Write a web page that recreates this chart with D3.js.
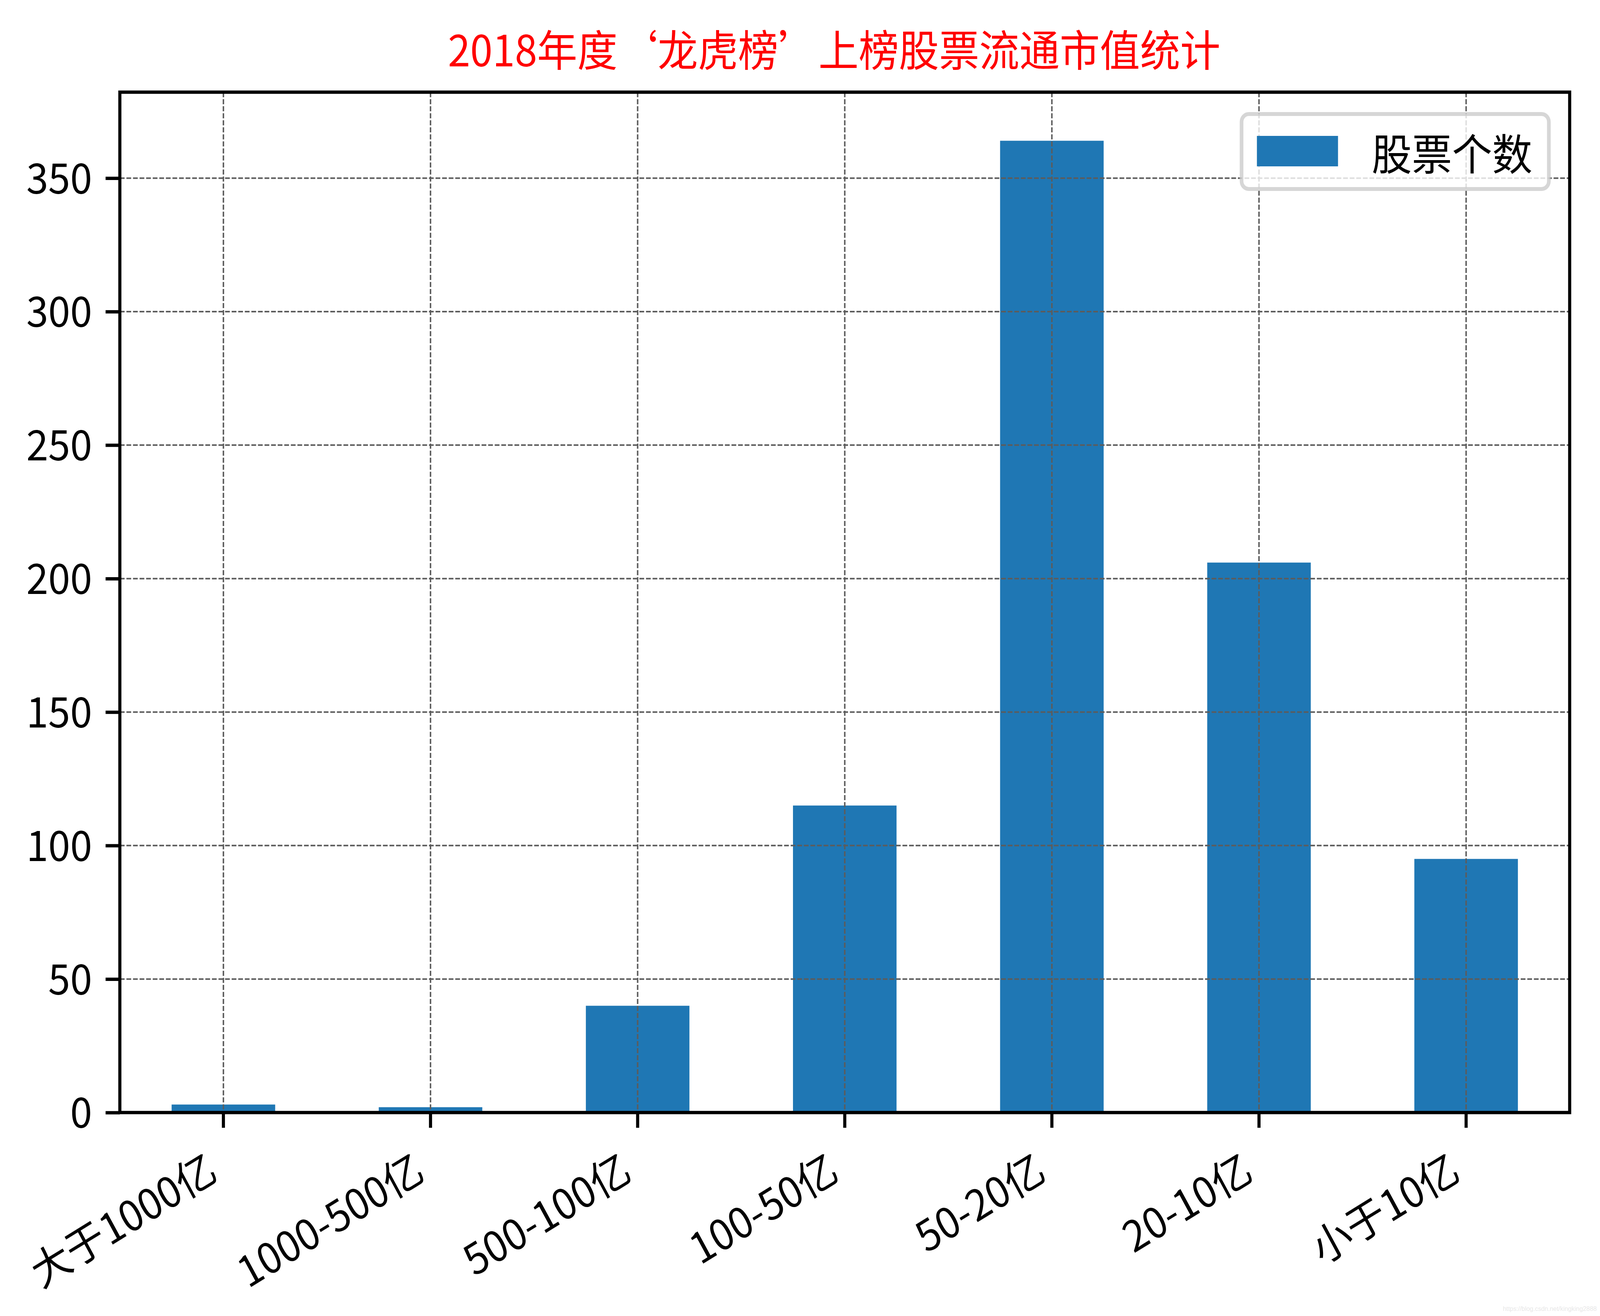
<!DOCTYPE html>
<html>
<head>
<meta charset="utf-8">
<script src="https://cdn.jsdelivr.net/npm/d3@7"></script>
<style>
  html, body { margin: 0; padding: 0; background: #fff; overflow: hidden; }
  svg { display: block; width: 100vw; height: 100vh; font-family: "Noto Sans CJK SC", "DejaVu Sans", sans-serif; }
</style>
</head>
<body>
<svg id="chart"></svg>
<script>
const categories = ["大于1000亿", "1000-500亿", "500-100亿", "100-50亿", "50-20亿", "20-10亿", "小于10亿"];
const counts = [3, 2, 40, 115, 364, 206, 95];
const yTicks = [0, 50, 100, 150, 200, 250, 300, 350];
const seriesName = "股票个数";
const titleText = "2018年度‘龙虎榜’上榜股票流通市值统计";
const watermark = "https://blog.csdn.net/kingking2888";

const width = 4379;
const height = 3370;
const marginTop = 236;
const marginRight = 83;
const marginBottom = 521;
const marginLeft = 328;
const barColor = "#1f77b4";
const fontSize = 108;
const spineWidth = 8.5;

// the window may be narrower than the figure, so draw in figure units and fit it to the window
const svg = d3.select("#chart")
    .attr("viewBox", [0, 0, width, height])
    .attr("preserveAspectRatio", "none");

const x = d3.scaleBand(categories, [marginLeft, width - marginRight])
    .paddingInner(0.5)
    .paddingOuter(0.25);
const y = d3.scaleLinear([0, d3.max(counts) * 1.05], [height - marginBottom, marginTop]);

// bars
svg.append("g")
    .selectAll("rect")
    .data(categories)
    .join("rect")
    .attr("x", d => x(d))
    .attr("y", (d, i) => y(counts[i]))
    .attr("width", x.bandwidth())
    .attr("height", (d, i) => y(0) - y(counts[i]))
    .attr("fill", barColor);

// grid (drawn over the bars, like matplotlib)
const grid = svg.append("g")
    .attr("stroke", "#5c5c5c")
    .attr("stroke-width", 4)
    .attr("stroke-dasharray", "13 5");
grid.selectAll("line.gy")
    .data(yTicks)
    .join("line")
    .attr("class", "gy")
    .attr("x1", marginLeft)
    .attr("x2", width - marginRight)
    .attr("y1", d => y(d))
    .attr("y2", d => y(d));
grid.selectAll("line.gx")
    .data(categories)
    .join("line")
    .attr("class", "gx")
    .attr("x1", d => x(d) + x.bandwidth() / 2)
    .attr("x2", d => x(d) + x.bandwidth() / 2)
    .attr("y1", marginTop)
    .attr("y2", height - marginBottom);

// x axis
svg.append("g")
    .attr("transform", `translate(0,${height - marginBottom})`)
    .call(d3.axisBottom(x).tickSize(39).tickSizeOuter(0))
    .call(g => g.select(".domain").remove())
    .call(g => g.selectAll(".tick line").attr("stroke", "#000").attr("stroke-width", spineWidth))
    .call(g => g.selectAll(".tick text")
        .attr("fill", "#000")
        .attr("font-size", fontSize)
        .attr("font-family", "Noto Sans CJK SC")
        .attr("text-anchor", "end")
        .attr("x", 0)
        .attr("y", 0)
        .attr("dy", null)
        .attr("transform", "translate(-10,169) rotate(-30)"));

// y axis
svg.append("g")
    .attr("transform", `translate(${marginLeft},0)`)
    .call(d3.axisLeft(y).tickValues(yTicks).tickSize(39).tickPadding(37))
    .call(g => g.select(".domain").remove())
    .call(g => g.selectAll(".tick line").attr("stroke", "#000").attr("stroke-width", spineWidth))
    .call(g => g.selectAll(".tick text")
        .attr("fill", "#000")
        .attr("font-size", fontSize)
        .attr("font-family", "Noto Sans CJK SC")
        .attr("dy", "0.36em"));

// spines
svg.append("rect")
    .attr("x", marginLeft)
    .attr("y", marginTop)
    .attr("width", width - marginLeft - marginRight)
    .attr("height", height - marginTop - marginBottom)
    .attr("fill", "none")
    .attr("stroke", "#000")
    .attr("stroke-width", spineWidth);

// legend
const legend = svg.append("g");
legend.append("rect")
    .attr("x", 3398)
    .attr("y", 292)
    .attr("width", 841)
    .attr("height", 192)
    .attr("rx", 20)
    .attr("fill", "#fff")
    .attr("fill-opacity", 0.8)
    .attr("stroke", "#cccccc")
    .attr("stroke-opacity", 0.8)
    .attr("stroke-width", 10);
legend.append("rect")
    .attr("x", 3440)
    .attr("y", 348)
    .attr("width", 222)
    .attr("height", 78)
    .attr("fill", barColor);
legend.append("text")
    .attr("x", 3754)
    .attr("y", 388)
    .attr("dominant-baseline", "central")
    .attr("font-size", 110)
    .attr("fill", "#000")
    .text(seriesName);

// title
svg.append("text")
    .attr("x", 2283)
    .attr("y", 170)
    .attr("text-anchor", "middle")
    .attr("font-size", 110)
    .attr("fill", "#ff0000")
    .text(titleText);

// faint watermark bottom right
svg.append("text")
    .attr("x", 4370)
    .attr("y", 3357)
    .attr("text-anchor", "end")
    .attr("font-size", 17)
    .attr("font-family", "Liberation Sans")
    .attr("fill", "#e8e8e8")
    .text(watermark);
</script>
</body>
</html>
